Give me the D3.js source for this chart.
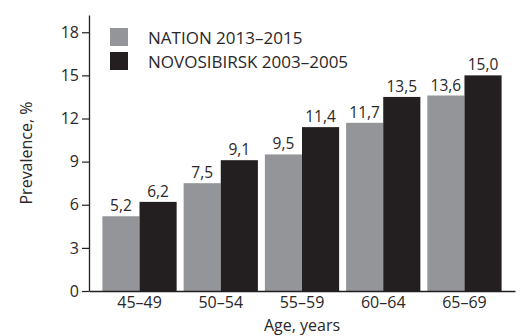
<!DOCTYPE html>
<html><head><meta charset="utf-8">
<script src="https://cdn.jsdelivr.net/npm/d3@7"></script>
<style>body{margin:0;background:#fff}svg{display:block}text{font-family:"Open Sans",sans-serif;fill:#2b2728}</style>
</head><body>
<svg id="c" width="527" height="336"></svg>
<script>
const categories = ["45–49","50–54","55–59","60–64","65–69"];
const seriesNames = ["NATION 2013–2015","NOVOSIBIRSK 2003–2005"];
const nation = [5.2, 7.5, 9.5, 11.7, 13.6];
const novosibirsk = [6.2, 9.1, 11.4, 13.5, 15.0];
const yTicks = [0,3,6,9,12,15,18];
const colors = ["#939598","#231f20"];

const svg = d3.select("#c");
const x0 = 89, x1 = 515, yB = 291, yT = 15;
const x = d3.scaleBand().domain(categories).range([x0,x1]).paddingInner(0.086).paddingOuter(0.165);
const xs = d3.scaleBand().domain([0,1]).range([0,x.bandwidth()]);
const y = d3.scaleLinear().domain([0,19.2]).range([yB,yT]);
const fmt = v => v.toFixed(1).replace(".", ",");

const series = [nation, novosibirsk];
series.forEach((vals,si)=>{
  const g = svg.append("g");
  g.selectAll("rect").data(vals).join("rect")
    .attr("x",(d,i)=>x(categories[i])+xs(si))
    .attr("y",d=>y(d)).attr("width",xs.bandwidth()).attr("height",d=>yB-y(d))
    .attr("fill",colors[si]);
  g.selectAll("text").data(vals).join("text")
    .attr("x",(d,i)=>x(categories[i])+xs(si)+xs.bandwidth()/2)
    .attr("y",d=>y(d)-5).attr("text-anchor","middle").attr("font-size",15.5)
    .text(fmt);
});

// Y axis
const ya = svg.append("g").attr("transform",`translate(${x0},0)`)
  .call(d3.axisLeft(y).tickValues(yTicks).tickSize(7).tickSizeOuter(0).tickPadding(3));
ya.select(".domain").attr("stroke","#231f20").attr("stroke-width",1.3);
ya.selectAll(".tick line").attr("stroke","#231f20").attr("stroke-width",1.2);
ya.selectAll(".tick text").attr("font-size",16).attr("font-family","Open Sans").attr("fill","#2b2728");

// X axis
const xa = svg.append("g").attr("transform",`translate(0,${yB})`)
  .call(d3.axisBottom(x).tickSize(0).tickSizeOuter(0).tickPadding(6));
xa.select(".domain").attr("stroke","#231f20").attr("stroke-width",1.3);
xa.selectAll(".tick text").attr("font-size",16).attr("font-family","Open Sans").attr("fill","#2b2728");

svg.append("text").attr("x",(x0+x1)/2).attr("y",331).attr("text-anchor","middle")
  .attr("font-size",16).text("Age, years");
svg.append("text").attr("transform",`translate(32,${(yB+yT)/2}) rotate(-90)`)
  .attr("text-anchor","middle").attr("font-size",16).text("Prevalence, %");

// legend
seriesNames.forEach((n,i)=>{
  svg.append("rect").attr("x",110).attr("y",28+i*24).attr("width",18).attr("height",18).attr("fill",colors[i]);
  svg.append("text").attr("x",148).attr("y",44+i*24).attr("font-size",17).text(n);
});
</script>
</body></html>
